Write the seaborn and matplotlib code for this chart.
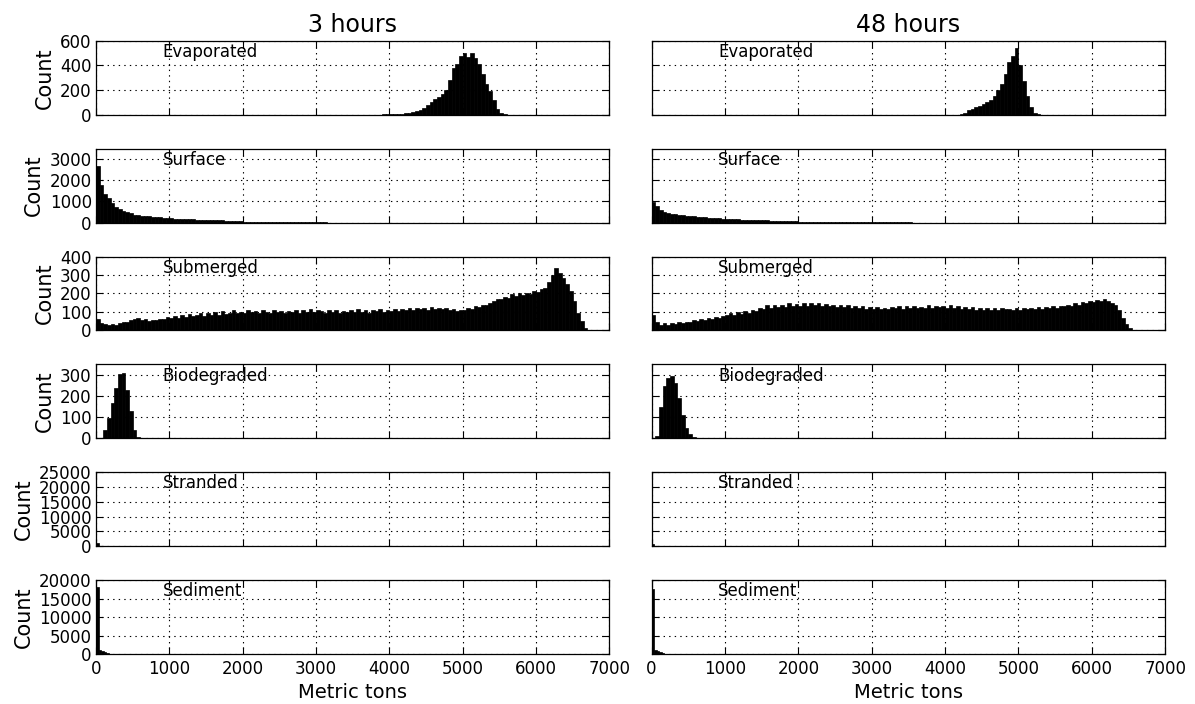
import numpy as np
import pandas as pd
import seaborn as sns
import matplotlib.pyplot as plt

# bin widths (metric tons) used for the histograms
bin_w = 50
fine_w = 35

# ---- Evaporated ----
evap_3h_start = 3900
evap_3h = [2, 3, 4, 5, 6, 8, 10, 15, 22, 30, 40, 55, 75, 100, 125, 145, 165, 200,
           280, 380, 410, 480, 500, 470, 500, 460, 410, 330, 250, 190, 120, 50, 12, 3]
evap_48h_start = 4200
evap_48h = [3, 15, 35, 50, 60, 70, 85, 100, 120, 150, 200, 250, 330, 430, 480, 540,
            400, 270, 150, 60, 15, 3]

# ---- Surface ----
surf_3h_start = 0
surf_3h = [2700, 1800, 1350, 1150, 950, 720, 640, 560, 480, 430, 380, 350, 320, 300,
           290, 280, 260, 250, 230, 210, 200, 190, 180, 170, 160, 160, 150, 140, 135,
           130, 125, 115, 110, 105, 100, 90, 85, 80, 70, 65, 40, 30, 28, 25, 25, 22,
           20, 20, 18, 15, 12, 10, 10, 8, 8, 6, 6, 10, 15, 12, 10, 12, 5, 3, 2, 2]
surf_48h_start = 0
surf_48h = [980, 800, 600, 520, 470, 420, 390, 370, 350, 330, 310, 300, 280, 265, 250,
            235, 220, 210, 195, 185, 175, 165, 160, 150, 140, 135, 125, 120, 115, 110,
            105, 100, 95, 90, 85, 80, 75, 70, 65, 60, 45, 42, 40, 38, 36, 34, 32, 30,
            28, 26, 25, 24, 22, 22, 20, 20, 18, 18, 16, 15, 15, 14, 14, 13, 12, 12, 12,
            10, 5, 4, 4, 3, 3, 3, 3, 2, 2, 2, 2, 2, 2, 2, 2, 2, 2, 2, 1, 1, 1, 1, 1]

# ---- Submerged ----
subm_3h_start = 0
subm_3h = [60, 42, 33, 28, 36, 30, 42, 48, 44, 58, 62, 68, 55, 60, 52, 58, 54, 63, 60, 72,
           66, 78, 70, 82, 74, 88, 78, 86, 92, 80, 94, 86, 98, 84, 104, 90, 96, 110, 92, 102,
           96, 112, 98, 104, 92, 108, 100, 95, 110, 98, 104, 92, 106, 100, 112, 96, 108, 102,
           114, 98, 110, 104, 96, 108, 100, 112, 94, 104, 98, 110, 100, 114, 102, 108, 96,
           112, 104, 116, 100, 110, 106, 118, 104, 116, 110, 122, 108, 120, 114, 124, 112,
           126, 118, 122, 114, 120, 108, 116, 104, 112, 110, 124, 118, 130, 126, 140, 136,
           150, 158, 170, 168, 182, 178, 196, 186, 204, 192, 200, 196, 212, 206, 222, 232,
           262, 300, 340, 312, 285, 250, 212, 160, 95, 50, 12]
subm_48h_start = 0
subm_48h = [85, 45, 30, 38, 32, 40, 34, 44, 38, 48, 44, 54, 50, 60, 55, 68, 62, 74, 70, 80,
            82, 92, 86, 98, 90, 104, 96, 112, 104, 124, 116, 136, 122, 140, 126, 138, 128,
            146, 130, 142, 134, 150, 132, 146, 136, 148, 130, 144, 134, 140, 128, 138, 126,
            136, 122, 132, 120, 130, 118, 126, 116, 128, 118, 124, 114, 128, 120, 132, 118,
            130, 122, 134, 120, 128, 124, 136, 122, 132, 126, 134, 124, 136, 120, 130, 118,
            128, 116, 126, 112, 124, 110, 120, 112, 122, 108, 120, 114, 118, 110, 122, 112,
            124, 116, 122, 114, 126, 118, 128, 120, 132, 124, 134, 130, 140, 134, 146, 140,
            154, 146, 158, 152, 164, 158, 172, 162, 150, 138, 110, 70, 35, 15, 5, 2]

# ---- Biodegraded ----
bio_3h_start = 100
bio_3h = [40, 95, 165, 240, 305, 310, 230, 130, 40, 8]
bio_48h_start = 50
bio_48h = [10, 150, 250, 285, 295, 260, 190, 110, 50, 18, 5]

# ---- Stranded (fine bins) ----
strand_3h_start = 0
strand_3h = [900, 200, 50]
strand_48h_start = 0
strand_48h = [600, 220, 130, 90, 70, 50, 30]

# ---- Sediment (fine bins) ----
sed_3h_start = 0
sed_3h = [18200, 1100, 800, 550, 400, 60]
sed_48h_start = 0
sed_48h = [17500, 1000, 700, 450, 300, 50]

panel_names = ['Evaporated', 'Surface', 'Submerged', 'Biodegraded', 'Stranded', 'Sediment']
col_titles = ['3 hours', '48 hours']
y_max = [600, 3500, 400, 350, 25000, 20000]
y_step = [200, 1000, 100, 100, 5000, 5000]
x_ticks = [0, 1000, 2000, 3000, 4000, 5000, 6000, 7000]

hists = [
    [(evap_3h_start, bin_w, evap_3h), (evap_48h_start, bin_w, evap_48h)],
    [(surf_3h_start, bin_w, surf_3h), (surf_48h_start, bin_w, surf_48h)],
    [(subm_3h_start, bin_w, subm_3h), (subm_48h_start, bin_w, subm_48h)],
    [(bio_3h_start, bin_w, bio_3h), (bio_48h_start, bin_w, bio_48h)],
    [(strand_3h_start, fine_w, strand_3h), (strand_48h_start, fine_w, strand_48h)],
    [(sed_3h_start, fine_w, sed_3h), (sed_48h_start, fine_w, sed_48h)],
]

sns.set_theme(style='white')
plt.rcParams['font.family'] = ['DejaVu Sans']
plt.rcParams.update({
    'text.color': 'black', 'axes.labelcolor': 'black',
    'xtick.direction': 'in', 'ytick.direction': 'in',
    'xtick.top': True, 'ytick.right': True,
    'xtick.bottom': True, 'ytick.left': True,
    'xtick.major.size': 5, 'ytick.major.size': 5,
    'xtick.major.width': 0.8, 'ytick.major.width': 0.8,
    'xtick.major.pad': 4, 'ytick.major.pad': 3,
    'xtick.color': 'black', 'ytick.color': 'black',
    'xtick.labelsize': 12, 'ytick.labelsize': 12,
    'axes.edgecolor': 'black', 'axes.linewidth': 0.9,
    'lines.scale_dashes': False,
})

fig, axes = plt.subplots(6, 2, figsize=(11.95, 7.04), dpi=100, sharex=True, sharey='row')
fig.subplots_adjust(left=0.0803, right=0.975, top=0.942, bottom=0.071,
                    wspace=0.082, hspace=0.46)

for r in range(6):
    for c in range(2):
        ax = axes[r, c]
        start, width, counts = hists[r][c]
        edges = [start + width * i for i in range(len(counts) + 1)]
        df = pd.DataFrame({'tons': [e + width / 2 for e in edges[:-1]], 'count': counts})
        sns.histplot(data=df, x='tons', weights='count', bins=edges, color='black',
                     edgecolor='black', linewidth=0.5, alpha=1, ax=ax)
        ax.set_xlim(0, 7000)
        ax.set_ylim(0, y_max[r])
        ax.set_yticks(np.arange(0, y_max[r] + 1, y_step[r]))
        ax.set_xticks(x_ticks)
        ax.grid(True, color='black', linestyle=(0, (1, 3)), linewidth=0.8)
        ax.set_axisbelow(False)
        ax.text(0.13, 0.97, panel_names[r], transform=ax.transAxes,
                ha='left', va='top', fontsize=12, color='black')
        ax.set_ylabel('Count' if c == 0 else '', fontsize=15)
        ax.set_xlabel('Metric tons' if r == 5 else '', fontsize=14)
        if r == 0:
            ax.set_title(col_titles[c], fontsize=17, pad=6)

plt.savefig('out.png', dpi=100)
